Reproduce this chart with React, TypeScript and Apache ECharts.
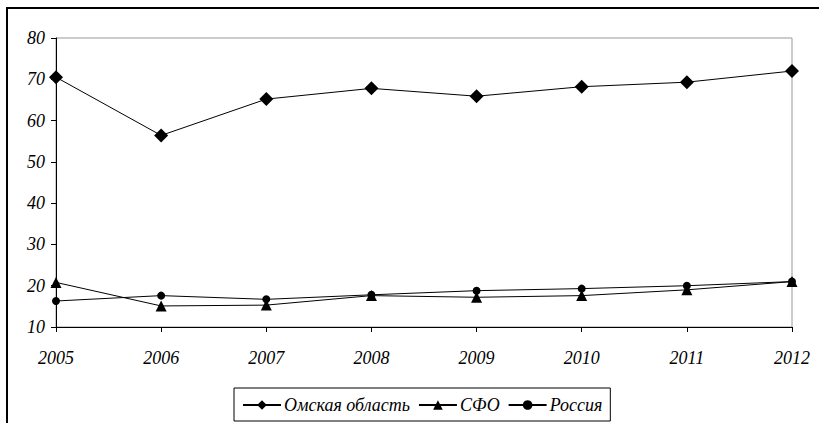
import React, { useEffect, useRef } from "react";
import * as echarts from "echarts";

const categories = ["2005", "2006", "2007", "2008", "2009", "2010", "2011", "2012"];
const omsk = [70.5, 56.4, 65.2, 67.8, 65.9, 68.2, 69.3, 72.0];
const sfo = [20.8, 15.1, 15.3, 17.6, 17.2, 17.6, 19.0, 21.0];
const russia = [16.3, 17.6, 16.7, 17.8, 18.8, 19.3, 20.0, 21.0];
const seriesNames = ["Омская область", "СФО", "Россия"];

const FONT = "Liberation Serif";
const txt = { fontFamily: FONT, fontStyle: "italic", fontSize: 18, color: "#000" };

export default function App() {
  const ref = useRef<HTMLDivElement>(null);
  useEffect(() => {
    if (!ref.current) return;
    const dom = ref.current;
    const chart = echarts.init(dom, null, { renderer: "svg" });
    const lineStyle = { color: "#000", width: 1 };
    const fixFonts = () => {
      dom.querySelectorAll("text").forEach((t) => {
        (t as SVGTextElement).style.fontFamily = "'Liberation Serif', 'Times New Roman', serif";
        (t as SVGTextElement).style.fontStyle = "italic";
      });
    };
    chart.on("finished", fixFonts);
    chart.setOption({
      animation: false,
      backgroundColor: "#fff",
      textStyle: { fontFamily: FONT },
      grid: {
        left: 56,
        right: 27,
        top: 38,
        bottom: 96,
        show: true,
        borderColor: "#999",
        borderWidth: 1,
      },
      legend: {
        left: 234,
        top: 388,
        orient: "horizontal",
        borderColor: "#000",
        borderWidth: 1,
        borderRadius: 0,
        padding: [8, 8, 7, 8],
        itemWidth: 38,
        itemHeight: 12,
        itemGap: 8,
        textStyle: { ...txt, padding: [0, 0, 0, -2] },
        data: seriesNames,
      },
      xAxis: {
        type: "category",
        data: categories,
        boundaryGap: false,
        axisLine: { lineStyle: { color: "#000", width: 1 } },
        axisTick: { show: true, length: 5, inside: false, lineStyle: { color: "#000" } },
        axisLabel: { ...txt, margin: 22 },
        splitLine: { show: false },
      },
      yAxis: {
        type: "value",
        min: 10,
        max: 80,
        interval: 10,
        axisLine: { show: true, lineStyle: { color: "#000", width: 1 } },
        axisTick: { show: true, length: 5, inside: false, lineStyle: { color: "#000" } },
        axisLabel: { ...txt, margin: 11 },
        splitLine: { show: false },
      },
      graphic: [
        {
          type: "rect",
          shape: { x: 7, y: 8, width: 840, height: 440 },
          style: { fill: "none", stroke: "#000", lineWidth: 2 },
          silent: true,
        },
      ],
      series: [
        {
          name: seriesNames[0],
          type: "line",
          data: omsk,
          symbol: "diamond",
          symbolSize: 14,
          lineStyle,
          itemStyle: { color: "#000" },
        },
        {
          name: seriesNames[1],
          type: "line",
          data: sfo,
          symbol: "triangle",
          symbolSize: 11,
          lineStyle,
          itemStyle: { color: "#000" },
        },
        {
          name: seriesNames[2],
          type: "line",
          data: russia,
          symbol: "circle",
          symbolSize: 8,
          lineStyle,
          itemStyle: { color: "#000" },
        },
      ],
    });
    fixFonts();
    const raf = requestAnimationFrame(fixFonts);
    const t1 = setTimeout(fixFonts, 50);
    const t2 = setTimeout(fixFonts, 300);
    return () => {
      cancelAnimationFrame(raf);
      clearTimeout(t1);
      clearTimeout(t2);
      chart.dispose();
    };
  }, []);
  return (
    <div
      ref={ref}
      style={{ position: "fixed", left: 0, top: 0, width: 819, height: 423, background: "#fff" }}
    />
  );
}
